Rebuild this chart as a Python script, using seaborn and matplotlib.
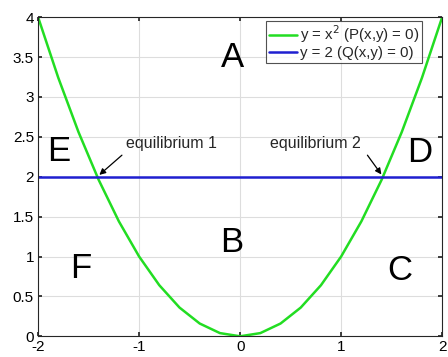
import matplotlib
matplotlib.use("Agg")
import matplotlib.pyplot as plt
import seaborn as sns
import pandas as pd

# Parabola y = x^2 sampled on a coarse grid
x_vals = [-2.0, -1.8, -1.6, -1.4, -1.2, -1.0, -0.8, -0.6, -0.4, -0.2, 0.0,
          0.2, 0.4, 0.6, 0.8, 1.0, 1.2, 1.4, 1.6, 1.8, 2.0]
parabola = [4.0, 3.24, 2.56, 1.96, 1.44, 1.0, 0.64, 0.36, 0.16, 0.04, 0.0,
            0.04, 0.16, 0.36, 0.64, 1.0, 1.44, 1.96, 2.56, 3.24, 4.0]
line_x = [-2.0, 2.0]
line_y = [2.0, 2.0]

series_labels = ["y = x$^2$ (P(x,y) = 0)", "y = 2 (Q(x,y) = 0)"]

region_labels = ["A", "B", "C", "D", "E", "F"]
region_x = [-0.08, -0.08, 1.58, 1.78, -1.80, -1.58]
region_y = [3.49, 1.18, 0.82, 2.3, 2.31, 0.85]

eq_labels = ["equilibrium 1", "equilibrium 2"]
eq_x = [-1.4142, 1.4142]
eq_y = [2.0, 2.0]
eq_text_x = [-0.68, 0.74]
eq_text_y = [2.42, 2.42]
eq_tail_x = [-1.17, 1.26]
eq_tail_y = [2.27, 2.27]

x_ticks = [-2, -1, 0, 1, 2]
y_ticks = [0, 0.5, 1, 1.5, 2, 2.5, 3, 3.5, 4]
y_tick_labels = ["0", "0.5", "1", "1.5", "2", "2.5", "3", "3.5", "4"]

sns.set_theme(style="white")
plt.rcParams["font.family"] = ["Liberation Sans", "DejaVu Sans"]

fig = plt.figure(figsize=(4.48, 3.57), dpi=100)
ax = fig.add_axes([0.085, 0.058, 0.902, 0.894])

df_p = pd.DataFrame({"x": x_vals, "y": parabola})
df_q = pd.DataFrame({"x": line_x, "y": line_y})
sns.lineplot(data=df_p, x="x", y="y", ax=ax, color="#22dd22", linewidth=1.8,
             label=series_labels[0], sort=False)
sns.lineplot(data=df_q, x="x", y="y", ax=ax, color="#1f1fd0", linewidth=1.8,
             label=series_labels[1], sort=False)

ax.set_xlim(-2, 2)
ax.set_ylim(0, 4)
ax.set_xticks(x_ticks)
ax.set_xticklabels([str(t) for t in x_ticks])
ax.set_yticks(y_ticks)
ax.set_yticklabels(y_tick_labels)
ax.set_xlabel("")
ax.set_ylabel("")
ax.grid(True, color="#dddddd", linewidth=0.8)
ax.set_axisbelow(True)
for side in ["left", "bottom", "top", "right"]:
    ax.spines[side].set_visible(True)
    ax.spines[side].set_color("#262626")
    ax.spines[side].set_linewidth(0.8)
ax.tick_params(axis="both", direction="in", length=3, labelsize=11,
               colors="#262626", labelcolor="black", pad=3,
               top=True, right=True, bottom=True, left=True)

for lab, xx, yy in zip(region_labels, region_x, region_y):
    ax.text(xx, yy, lab, fontsize=25, ha="center", va="center", color="black")

# Equilibrium labels with arrows pointing at the intersections
for lab, px, py, tx, ty, ax_x, ax_y in zip(eq_labels, eq_x, eq_y, eq_text_x,
                                           eq_text_y, eq_tail_x, eq_tail_y):
    ax.text(tx, ty, lab, fontsize=11.5, ha="center", va="center")
    ax.annotate("", xy=(px, py), xytext=(ax_x, ax_y),
                arrowprops=dict(arrowstyle="-|>", color="black", lw=0.9,
                                shrinkA=0, shrinkB=2, mutation_scale=9))

leg = ax.legend(loc="upper right", bbox_to_anchor=(0.950, 0.989), fontsize=10.8,
                frameon=True, fancybox=False, handlelength=1.9,
                handletextpad=0.15, borderpad=0.2, labelspacing=0.05,
                borderaxespad=0.0)
leg.get_frame().set_edgecolor("#262626")
leg.get_frame().set_linewidth(0.8)

fig.savefig("out.png", dpi=100)
